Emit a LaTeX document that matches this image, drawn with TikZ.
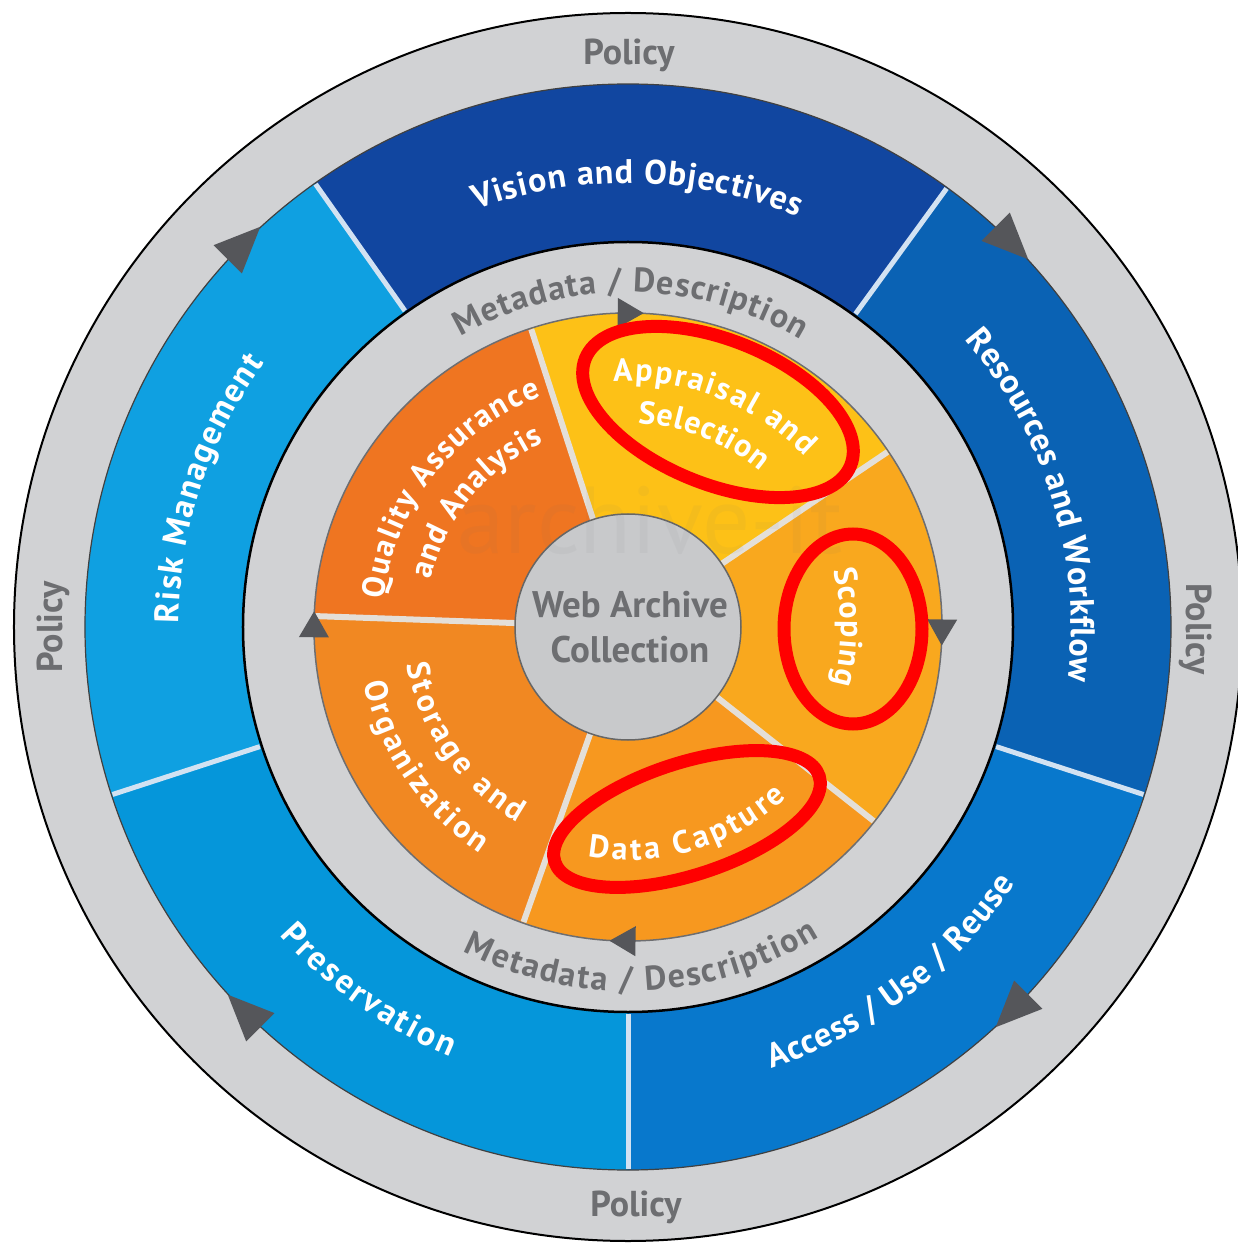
\documentclass[tikz,border=0pt]{standalone}
\usepackage{fontspec}
\setmainfont{PT Sans}
\usetikzlibrary{decorations.text}
\definecolor{ringgray}{HTML}{D1D2D4}
\definecolor{txtgray}{HTML}{6D6E71}
\definecolor{arrowgray}{HTML}{55565A}
\definecolor{cvision}{HTML}{1146A0}
\definecolor{cresources}{HTML}{0A62B4}
\definecolor{caccess}{HTML}{0878CC}
\definecolor{cpreserv}{HTML}{0596DA}
\definecolor{crisk}{HTML}{0FA0E1}
\definecolor{cquality}{HTML}{EF7521}
\definecolor{cappraisal}{HTML}{FDC117}
\definecolor{cscoping}{HTML}{F9A81E}
\definecolor{ccapture}{HTML}{F7981F}
\definecolor{cstorage}{HTML}{F18822}
\definecolor{ccenter}{HTML}{C8C9CB}
\definecolor{bluesep}{HTML}{D2E2F2}
\definecolor{orsep}{HTML}{E4DFD8}
\newcommand\bluefont{\fontsize{34}{40}\selectfont\bfseries\color{white}}
\newcommand\metafont{\fontsize{34}{40}\selectfont\bfseries\color{txtgray}}
\newcommand\orfont{\fontsize{32}{38}\selectfont\bfseries\color{white}}
% #1 format, #2 radius, #3 start angle, #4 end angle, #5 text
\newcommand\arctext[5]{\path[decorate,decoration={text along path,text align=fit to path,text={|#1|#5}}] (#3:#2pt) arc[start angle=#3,end angle=#4,radius=#2pt];}
% #1 angle, #2 radius, #3 half length, #4 half width
\newcommand\cwarrow[4]{\fill[arrowgray,shift={(#1:#2pt)},rotate=#1-90] (#3pt,0) -- (-#3pt,#4pt) -- (-#3pt,-#4pt) -- cycle;}
\newcommand\sector[4]{\fill[#1] (0,0) -- (#2:#4pt) arc[start angle=#2,end angle=#3,radius=#4pt] -- cycle;}
\tikzset{
  policy/.style={font=\fontsize{36}{40}\selectfont\bfseries, text=txtgray, inner sep=0pt},
  centertext/.style={font=\fontsize{37}{45}\selectfont\bfseries, text=txtgray, align=center, inner sep=0pt},
  watermark/.style={font=\fontsize{95}{100}\selectfont, text=txtgray, opacity=0.06, inner sep=0pt},
  redmark/.style={draw=red, line width=13pt},
  bluesepline/.style={draw=bluesep, line width=5pt},
  orsepline/.style={draw=orsep, line width=6pt}
}
\begin{document}
\begin{tikzpicture}[x=1pt,y=1pt]
\useasboundingbox (-628,-617) rectangle (610,627);
% outer ring
\fill[ringgray] (0,0) circle[radius=614pt];
\draw[black, line width=2pt] (0,0) circle[radius=614pt];
% blue sectors
\sector{cvision}{54}{125.2}{543}
\sector{cresources}{-18}{54}{543}
\sector{caccess}{-90}{-18}{543}
\sector{cpreserv}{-162}{-90}{543}
\sector{crisk}{125.2}{198}{543}
\draw[black!75, line width=1.2pt] (0,0) circle[radius=543pt];
% blue separators
\foreach \a in {54,125.2,198,270,342} \draw[bluesepline] (\a:387pt) -- (\a:542pt);
% middle ring
\fill[ringgray] (0,0) circle[radius=385pt];
\draw[black, line width=2.5pt] (0,0) circle[radius=385pt];
% orange sectors
\sector{cquality}{108}{178}{314}
\sector{cappraisal}{34}{108}{314}
\sector{cscoping}{-38.3}{34}{314}
\sector{ccapture}{-109.5}{-38.3}{314}
\sector{cstorage}{178}{250.5}{314}
\draw[txtgray, line width=1.5pt] (0,0) circle[radius=314pt];
\foreach \a in {108,34,-38.3,-109.5,178} \draw[orsepline] (\a:113pt) -- (\a:313pt);
% center
\fill[ccenter] (0,0) circle[radius=113pt];
\draw[black!60, line width=1.5pt] (0,0) circle[radius=113pt];
% arrows
\cwarrow{135}{543}{23}{20}
\cwarrow{45}{543}{23}{20}
\cwarrow{-45}{543}{23}{20}
\cwarrow{-135}{543}{23}{20}
\cwarrow{89.5}{314}{13}{15}
\cwarrow{-1}{314}{13}{15}
\cwarrow{-91}{314}{13}{15}
\cwarrow{179.5}{314}{13}{15}
% policy labels
\node[policy] (polN) at (1,572) {Policy};
\node[policy] (polS) at (8,-580) {Policy};
\node[policy, rotate=90] (polW) at (-575,0) {Policy};
\node[policy, rotate=-90] (polE) at (568,-2) {Policy};
% blue ring texts
\arctext{\bluefont}{444}{110}{67.5}{Vision and Objectives}
\arctext{\bluefont}{443}{40.5}{-7}{Resources and Workflow}
\arctext{\bluefont}{449}{179.5}{144}{Risk Management}
\arctext{\bluefont}{464}{-72}{-33.5}{Access / Use / Reuse}
\arctext{\bluefont}{465}{221.5}{247.5}{Preservation}
% metadata ring texts
\arctext{\metafont}{335}{120}{59}{Metadata / Description}
\arctext{\metafont}{364}{243}{301.7}{Metadata / Description}
% orange texts
\arctext{\orfont}{246}{173.5}{110.7}{Quality Assurance}
\arctext{\orfont}{203}{166.6}{114.5}{and Analysis}
\arctext{\orfont}{246}{93.4}{44}{Appraisal and}
\arctext{\orfont}{204}{87.2}{49.7}{Selection}
\arctext{\orfont}{213}{15.5}{-15.5}{Scoping}
\arctext{\orfont}{233}{-100}{-47}{Data Capture}
\arctext{\orfont}{224}{189.5}{240.5}{Storage and}
\arctext{\orfont}{270}{192}{236.8}{Organization}
% center text
\node[centertext] (wac) at (2,0) {Web Archive\\Collection};
% watermark
\node[watermark] (wm) at (22,107) {archive-it};
% red annotation ellipses
\draw[redmark, shift={(90,215)}, rotate=-22] (0,0) ellipse[x radius=143pt, y radius=72pt];
\draw[redmark, shift={(225,-2)}] (0,0) ellipse[x radius=69pt, y radius=95pt];
\draw[redmark, shift={(59,-192)}, rotate=18] (0,0) ellipse[x radius=139pt, y radius=56pt];
\end{tikzpicture}
\end{document}
